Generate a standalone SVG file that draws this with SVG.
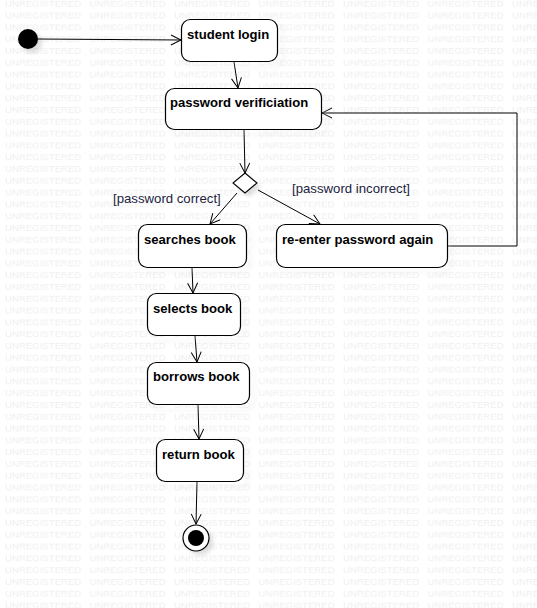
<svg xmlns="http://www.w3.org/2000/svg" width="537" height="608" viewBox="0 0 537 608">
<defs>
<style>
.wm{font-family:"Liberation Sans",Arial,sans-serif;font-size:9.6px;fill:#eeeeee}
.node rect{fill:#fff;stroke:#000;stroke-width:1.2}
.sh{fill:#000;opacity:0.13;filter:url(#blur)}
.lbl{font-family:"Liberation Sans",Arial,sans-serif;font-size:13.1px;font-weight:bold;fill:#000}
.guard{font-family:"Liberation Sans",Arial,sans-serif;font-size:13.2px;fill:#1c2340}
.edge{fill:none;stroke:#000;stroke-width:1;marker-end:url(#arr)}
</style>
<filter id="blur" x="-20%" y="-20%" width="140%" height="140%"><feGaussianBlur stdDeviation="2"/></filter>
<pattern id="wmp" patternUnits="userSpaceOnUse" x="0" y="-5.1" width="84.5" height="11.8">
<text class="wm" x="5" y="11.8">UNREGISTERED</text>
</pattern>
<marker id="arr" markerUnits="userSpaceOnUse" markerWidth="12" markerHeight="12" refX="11" refY="5.5" orient="auto">
<path d="M1,0.5 L11,5.5 L1,10.5" fill="none" stroke="#000" stroke-width="1"/>
</marker>
</defs>
<rect width="537" height="608" fill="#fff"/>
<rect width="537" height="608" fill="url(#wmp)"/>

<g id="edges">
<path class="edge" d="M38,39 L181,40"/>
<path class="edge" d="M234,62 L238,88"/>
<path class="edge" d="M244,130 L245,173"/>
<path class="edge" d="M237,193 L210,224"/>
<path class="edge" d="M258,190 L320,224"/>
<path class="edge" d="M447,246 L517,246 L517,113 L322,113"/>
<path class="edge" d="M192,268 L193,293"/>
<path class="edge" d="M195,336 L197,362"/>
<path class="edge" d="M198,405 L199,439"/>
<path class="edge" d="M197,482 L196,524"/>
<text class="guard" x="113" y="203">[password correct]</text>
<text class="guard" x="292" y="193">[password incorrect]</text>
</g>

<g id="initial">
<circle cx="32" cy="43" r="10" class="sh"/>
<circle cx="28" cy="39" r="10" fill="#000"/>
</g>

<g id="student_login" class="node">
<rect class="sh" x="186" y="24" width="97" height="43" rx="9"/>
<rect x="181.5" y="19.5" width="96" height="42" rx="9"/>
<text class="lbl" x="187" y="39">student login</text>
</g>

<g id="password_verification" class="node">
<rect class="sh" x="170" y="93" width="157" height="42" rx="9"/>
<rect x="165.5" y="88.5" width="156" height="41" rx="9"/>
<text class="lbl" x="170" y="107">password verificiation</text>
</g>

<g id="decision">
<path d="M249,177 L261,187 L249,197 L237,187 Z" class="sh"/>
<path d="M245,173 L257,183 L245,193 L233,183 Z" fill="#fff" stroke="#000" stroke-width="1.1"/>
</g>

<g id="searches_book" class="node">
<rect class="sh" x="143" y="229" width="108" height="43" rx="9"/>
<rect x="138.5" y="224.5" width="108" height="43" rx="9"/>
<text class="lbl" x="144" y="244">searches book</text>
</g>

<g id="reenter_password" class="node">
<rect class="sh" x="281" y="229" width="171" height="43" rx="9"/>
<rect x="276.5" y="224.5" width="171" height="43" rx="9"/>
<text class="lbl" x="282" y="244">re-enter password again</text>
</g>

<g id="selects_book" class="node">
<rect class="sh" x="152" y="298" width="93" height="43" rx="9"/>
<rect x="147.5" y="293.5" width="93" height="42" rx="9"/>
<text class="lbl" x="153" y="313">selects book</text>
</g>

<g id="borrows_book" class="node">
<rect class="sh" x="152" y="367" width="102" height="43" rx="9"/>
<rect x="147.5" y="362.5" width="102" height="42" rx="9"/>
<text class="lbl" x="153" y="381">borrows book</text>
</g>

<g id="return_book" class="node">
<rect class="sh" x="161" y="444" width="87" height="43" rx="9"/>
<rect x="156.5" y="439.5" width="87" height="42" rx="9"/>
<text class="lbl" x="162" y="459">return book</text>
</g>

<g id="final">
<circle cx="200" cy="542" r="13" class="sh"/>
<circle cx="196" cy="538" r="13" fill="#fff" stroke="#000" stroke-width="1.2"/>
<circle cx="196" cy="538" r="8" fill="#000"/>
</g>
</svg>
